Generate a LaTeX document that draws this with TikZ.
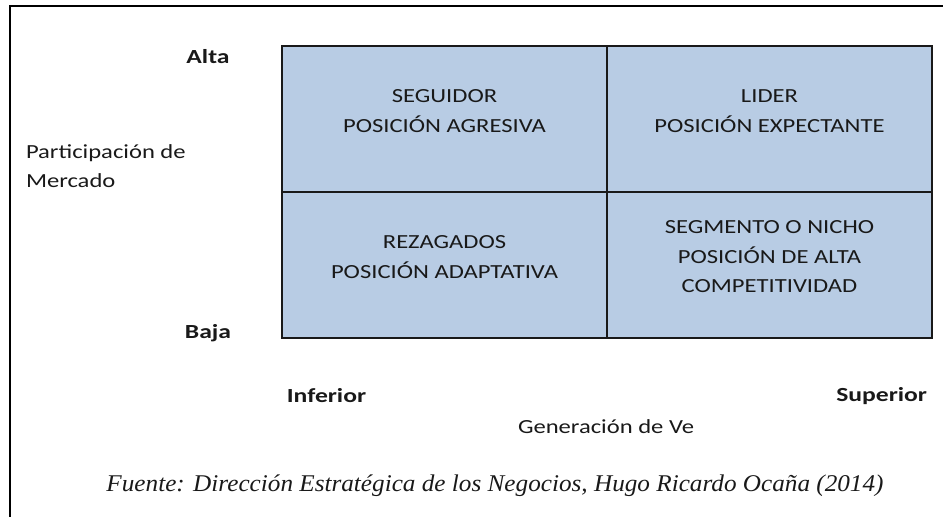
\documentclass[tikz,border=0pt]{standalone}
\usepackage{fontspec}
\setmainfont{Carlito}[FakeStretch=1.23]
\newfontfamily\tagfont{Carlito}[FakeStretch=1.28]
\newfontfamily\srcfont{Liberation Serif}[FakeStretch=1.05]
\definecolor{cellblue}{RGB}{184,204,228}
\definecolor{ink}{RGB}{25,25,25}

\begin{document}
\begin{tikzpicture}
        [x=1pt,y=-1pt,every node/.style={inner sep=0pt,outer sep=0pt,text=ink,font=\fontsize{20}{29.5}\selectfont},
         cell/.style={draw=ink,fill=cellblue,line width=1.5pt,minimum width=325pt,minimum height=146pt},
         lbl/.style={align=center},
         tag/.style={font=\tagfont\bfseries\fontsize{20}{24}\selectfont}]
        \useasboundingbox (0,0) rectangle (943,517);
        \clip (0,0) rectangle (943,517);
        \draw[line width=2pt] (10,530) -- (10,6) -- (950,6);

        % the four quadrants
        \foreach \name/\cx/\cy in {sg/444.5/119, ld/769.5/119, rz/444.5/265, nc/769.5/265}
        \node[cell] (\name) at (\cx,\cy) {};

        \node[lbl] (sgt) at ([yshift=8pt]sg.center) {SEGUIDOR\\POSICIÓN AGRESIVA};
        \node[lbl] (ldt) at ([yshift=8pt]ld.center) {LIDER\\POSICIÓN EXPECTANTE};
        \node[lbl] (rzt) at ([yshift=8pt]rz.center) {REZAGADOS\\POSICIÓN ADAPTATIVA};
        \node[lbl] (nct) at ([yshift=8pt]nc.center) {SEGMENTO O NICHO\\POSICIÓN DE ALTA\\COMPETITIVIDAD};

        % axes
        \node[tag] (alta) at (208,57) {Alta};
        \node[tag] (baja) at (208,333) {Baja};
        \node[tag] (inf) at (326.5,396) {Inferior};
        \node[tag,anchor=east] (sup) at (927,396) {Superior};
        \node[align=left,anchor=west] (part) at (26,166) {Participación de\\Mercado};
        \node (gen) at (606,427) {Generación de Ve};

        \node[font=\srcfont\itshape\fontsize{24}{28}\selectfont] (src) at (495,486)
          {Fuente: Dirección Estratégica de los Negocios, Hugo Ricardo Ocaña (2014)};
      \end{tikzpicture}
\end{document}
